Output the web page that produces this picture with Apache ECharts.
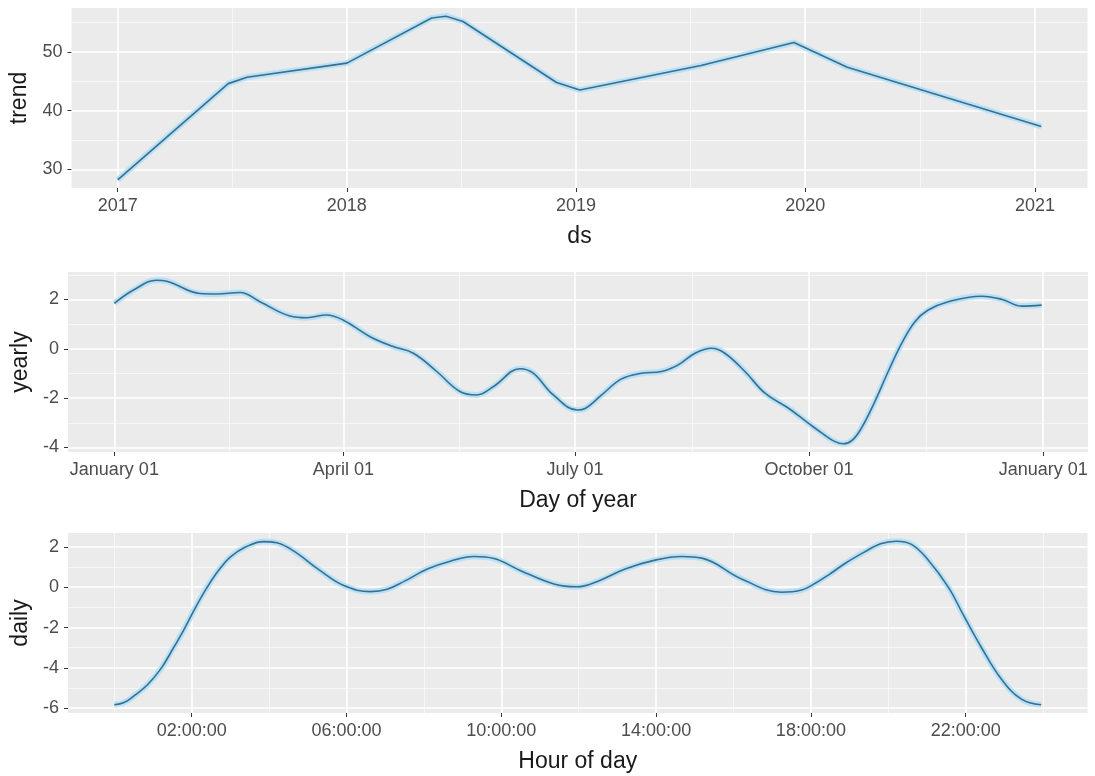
<!DOCTYPE html>
<html>
<head>
<meta charset="utf-8">
<script src="https://cdn.jsdelivr.net/npm/echarts@6/dist/echarts.min.js"></script>
<style>
  html, body { margin: 0; padding: 0; background: #ffffff; }
  #chart { width: 1095px; height: 776px; }
</style>
</head>
<body>
<div id="chart"></div>
<script>
// ---- trend component (piecewise linear between changepoints) ----
const trendDates  = ['2017-01-01', '2017-06-26', '2017-07-26', '2018-01-01', '2018-05-16', '2018-06-08',
                     '2018-07-05', '2018-12-01', '2019-01-07', '2019-07-19', '2019-12-14', '2020-03-08', '2021-01-11'];
const trendValues = [28.2, 44.6, 45.7, 48.1, 55.8, 56.1, 55.2, 44.8, 43.5, 47.7, 51.6, 47.4, 37.3];
const trendYearTicks = [2017, 2018, 2019, 2020, 2021];
const trendYTicks = [30, 40, 50];

// ---- yearly seasonality (day of year, 0 = January 01) ----
const yearlyDays   = [0, 7.5, 16.6, 20.6, 33.7, 40.2, 49.4, 57.2, 69, 75.6, 83.4, 90, 100.5, 109.6, 117.5,
                      126.7, 135.8, 142.4, 149, 159.4, 164.6, 172.5, 182, 185, 191.5, 199.3, 207.2, 215,
                      221.6, 228.2, 234.7, 239.9, 247.8, 255.7, 264.8, 272.7, 278.5, 283, 286.5, 290,
                      293.6, 298.9, 304.1, 309.4, 314.6, 319.8, 327.7, 340.8, 348.6, 356.5, 364.4];
const yearlyValues = [1.84, 2.38, 2.78, 2.74, 2.24, 2.22, 2.28, 1.91, 1.33, 1.26, 1.37, 1.16, 0.49, 0.09, -0.18,
                      -0.92, -1.73, -1.87, -1.53, -0.81, -0.99, -1.87, -2.48, -2.42, -1.87, -1.22, -0.99, -0.92,
                      -0.65, -0.18, 0.02, -0.18, -0.92, -1.80, -2.40, -3.01, -3.45, -3.75, -3.85, -3.7,
                      -3.21, -2.13, -0.92, 0.22, 1.10, 1.57, 1.91, 2.13, 2.01, 1.73, 1.77];
const yearlyTickDays   = [0, 90, 181, 273, 365];
const yearlyTickLabels = ['January 01', 'April 01', 'July 01', 'October 01', 'January 01'];
const yearlyYTicks = [-4, -2, 0, 2];

// ---- daily seasonality (hour of day) ----
const dailyHours  = [0, 0.25, 0.5, 0.85, 1.2, 1.5, 1.8, 2.1, 2.4, 2.7, 3.0, 3.4, 3.85, 4.2, 4.63, 5.32, 5.93,
                     6.62, 7.05, 7.5, 8.09, 8.7, 9.29, 9.81, 10.5, 11.36, 11.95, 12.5, 13.2, 13.97, 14.66,
                     15.18, 16.21, 17.24, 17.76, 18.1, 18.45, 18.9, 19.39, 19.8, 20.2, 20.6, 21.03, 21.55,
                     21.96, 22.41, 22.92, 23.44, 23.95];
const dailyValues = [-5.83, -5.72, -5.4, -4.85, -4.05, -3.1, -2.1, -1.0, 0.0, 0.85, 1.5, 2.0, 2.26, 2.2, 1.80,
                     0.82, 0.08, -0.22, -0.1, 0.3, 0.9, 1.3, 1.52, 1.42, 0.82, 0.16, 0.02, 0.3, 0.90, 1.34,
                     1.52, 1.44, 0.41, -0.25, -0.14, 0.18, 0.6, 1.2, 1.75, 2.15, 2.28, 2.12, 1.35, 0.0,
                     -1.45, -3.0, -4.55, -5.55, -5.83];
const dailyTickHours  = [2, 6, 10, 14, 18, 22];
const dailyTickLabels = ['02:00:00', '06:00:00', '10:00:00', '14:00:00', '18:00:00', '22:00:00'];
const dailyYTicks = [-6, -4, -2, 0, 2];

// ---------------------------------------------------------------
const FONT = "'Liberation Sans', Arial, sans-serif";
const PANEL_BG = '#EBEBEB';
const LINE_COLOR = '#3b6d8e';
const BAND_COLOR = 'rgba(180, 224, 246, 0.9)';

function parseDay(s) {
  const [y, m, d] = s.split('-').map(Number);
  return new Date(y, m - 1, d).getTime();
}

// ggplot-style 5% expansion of the data range
function expand(values) {
  const lo = Math.min(...values), hi = Math.max(...values);
  const pad = (hi - lo) * 0.05;
  return [lo - pad, hi + pad];
}

// minor breaks: midpoints between majors, extended one step outward, kept inside the limits
function minorBreaks(majors, limits) {
  const step = majors[1] - majors[0];
  const ext = [majors[0] - step, ...majors, majors[majors.length - 1] + step];
  const out = [];
  for (let i = 0; i < ext.length - 1; i++) {
    const m = (ext[i] + ext[i + 1]) / 2;
    if (m > limits[0] && m < limits[1]) out.push(m);
  }
  return out;
}
function midBreaks(majors, limits) {
  const out = [];
  for (let i = 0; i < majors.length - 1; i++) out.push((majors[i] + majors[i + 1]) / 2);
  return out.filter(m => m > limits[0] && m < limits[1]);
}

// dates are placed on a numeric (timestamp) axis so tick positions can be given explicitly
const trendX = trendDates.map(parseDay);
const trendXTicks = trendYearTicks.map(y => new Date(y, 0, 1).getTime());
const trendXMinor = trendYearTicks.slice(0, -1).map(y => new Date(y, 6, 2).getTime());

const panels = [
  {
    x: trendX, y: trendValues, smooth: false,
    xTicks: trendXTicks, xFmt: v => String(new Date(v).getFullYear()),
    yTicks: trendYTicks, xName: 'ds', yName: 'trend',
    top: 8, left: 71.5, right: 7.5
  },
  {
    x: yearlyDays, y: yearlyValues, smooth: 0.4,
    xTicks: yearlyTickDays, xFmt: v => yearlyTickLabels[yearlyTickDays.indexOf(v)],
    yTicks: yearlyYTicks, xName: 'Day of year', yName: 'yearly',
    top: 272, left: 68, right: 7
  },
  {
    x: dailyHours, y: dailyValues, smooth: 0.4,
    xTicks: dailyTickHours, xFmt: v => dailyTickLabels[dailyTickHours.indexOf(v)],
    yTicks: dailyYTicks, xName: 'Hour of day', yName: 'daily',
    top: 533, left: 68, right: 7.5
  }
];

const grids = [], xAxes = [], yAxes = [], series = [];

panels.forEach((p, i) => {
  const xLim = expand(p.x);
  const yLim = expand(p.y);
  let xMinor;
  if (i === 0) xMinor = trendXMinor.filter(v => v > xLim[0] && v < xLim[1]);
  else if (i === 1) xMinor = midBreaks(p.xTicks, xLim);
  else xMinor = minorBreaks(p.xTicks, xLim);
  const yMinor = minorBreaks(p.yTicks, yLim);

  grids.push({
    show: true, backgroundColor: PANEL_BG, borderWidth: 0,
    left: p.left, right: p.right, top: p.top, height: 180
  });

  xAxes.push({
    type: 'value', gridIndex: i, min: xLim[0], max: xLim[1],
    axisLine: { show: false, onZero: false },
    axisTick: { show: true, length: 4, customValues: p.xTicks, lineStyle: { color: '#333333', width: 1 } },
    axisLabel: { customValues: p.xTicks, formatter: p.xFmt, fontSize: 18, color: '#4d4d4d',
                 fontFamily: FONT, margin: 9 },
    splitLine: { show: false },
    name: p.xName, nameLocation: 'middle', nameGap: 37,
    nameTextStyle: { fontSize: 23, color: '#1a1a1a', fontFamily: FONT }
  });

  yAxes.push({
    type: 'value', gridIndex: i, min: yLim[0], max: yLim[1],
    axisLine: { show: false, onZero: false },
    axisTick: { show: true, length: 4, customValues: p.yTicks, lineStyle: { color: '#333333', width: 1 } },
    axisLabel: { customValues: p.yTicks, fontSize: 18, color: '#4d4d4d', fontFamily: FONT, margin: 9 },
    splitLine: { show: false },
    name: p.yName, nameLocation: 'middle', nameGap: 32,
    nameTextStyle: { fontSize: 23, color: '#1a1a1a', fontFamily: FONT }
  });

  const pts = p.x.map((xv, k) => [xv, p.y[k]]);
  const major = { type: 'solid', color: '#ffffff', width: 1.6 };
  const minor = { type: 'solid', color: '#ffffff', width: 0.8, opacity: 0.75 };
  const gridLines = [
    ...p.xTicks.map(v => ({ xAxis: v, lineStyle: major })),
    ...xMinor.map(v => ({ xAxis: v, lineStyle: minor })),
    ...p.yTicks.map(v => ({ yAxis: v, lineStyle: major })),
    ...yMinor.map(v => ({ yAxis: v, lineStyle: minor }))
  ];

  // pale uncertainty band under the component line, carrying the panel grid lines
  series.push({
    type: 'line', xAxisIndex: i, yAxisIndex: i, data: pts, smooth: p.smooth,
    showSymbol: false, silent: true, z: 2,
    lineStyle: { color: BAND_COLOR, width: 6 },
    markLine: {
      silent: true, z: 1, symbol: ['none', 'none'], label: { show: false },
      emphasis: { disabled: true }, animation: false, data: gridLines
    }
  });
  // component line
  series.push({
    type: 'line', xAxisIndex: i, yAxisIndex: i, data: pts, smooth: p.smooth,
    showSymbol: false, silent: true, z: 3,
    lineStyle: { color: LINE_COLOR, width: 1.6 }
  });
});

const chart = echarts.init(document.getElementById('chart'), null, { renderer: 'canvas' });
chart.setOption({
  animation: false,
  backgroundColor: '#ffffff',
  grid: grids,
  xAxis: xAxes,
  yAxis: yAxes,
  series: series
});
</script>
</body>
</html>
